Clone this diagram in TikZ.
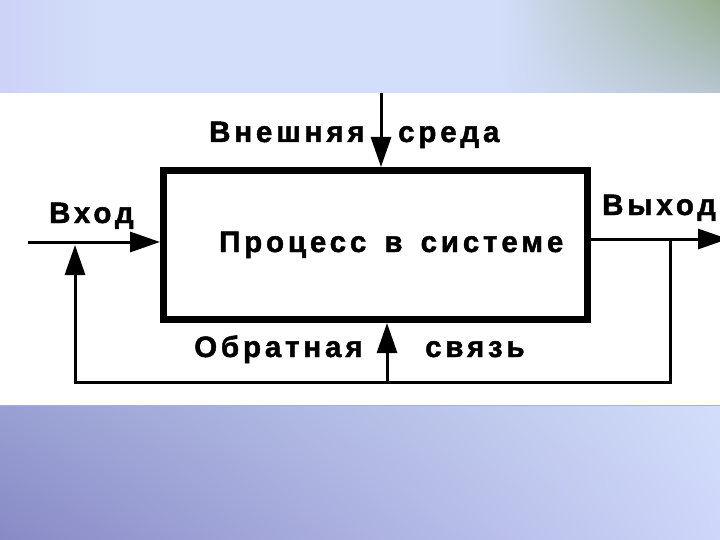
\documentclass[tikz,border=0pt]{standalone}
\usepackage{fontspec}
\usepackage{tikz}
\usetikzlibrary{arrows.meta, positioning, calc, shadings}
\newfontfamily\lblfont{Liberation Sans Bold}[LetterSpace=13, FakeBold=1.6, WordSpace=1.5]
\definecolor{bandBlue}{RGB}{210, 222, 250}
\definecolor{bandLav}{RGB}{205, 210, 246}
\definecolor{bandGreen}{RGB}{150, 172, 142}
\definecolor{bandGrey}{RGB}{182, 197, 208}
\definecolor{bandDeep}{RGB}{136, 138, 198}
\definecolor{bandMid}{RGB}{152, 160, 210}
\definecolor{bandPale}{RGB}{206, 214, 250}

\begin{document}
\begin{tikzpicture}[x=1pt, y=-1pt,
	sys_box/.style = {draw=black, line width=7pt, rectangle, inner sep=0pt,
		minimum width=424pt, minimum height=149pt},
	lbl/.style     = {anchor=base west, inner sep=0pt,
		font=\lblfont\fontsize{29.5}{31}\selectfont},
	line/.style    = {line width=3pt, -{Triangle[length=30pt, width=20pt]}}
	]
	\useasboundingbox (0,0) rectangle (720,540);
	\fill[white] (0,0) rectangle (720,540);
	% top and bottom bands
	\fill[bandBlue] (0,0) rectangle (720,93);
	\shade[upper left=bandLav, lower left=bandLav, upper right=bandBlue, lower right=bandBlue]
	(0,0) rectangle (100,93);
	\shade[upper left=bandBlue, lower left=bandBlue, upper right=bandGreen, lower right=bandGrey]
	(500,0) rectangle (720,93);
	\shade[upper left=bandMid, lower left=bandDeep, upper right=bandBlue, lower right=bandPale]
	(0,405) rectangle (720,540);
	\draw[bandDeep!70, line width=1pt] (0,405.5) -- (720,405.5);
	
	\node[sys_box] (proc) at (375.5,245) {};
	\node[lbl] (proc_txt) at (219,252) {Процесс в системе};
	
	\node[lbl] (env_l) at (209,142) {Внешняя};
	\node[lbl] (env_r) at (398,142) {среда};
	\node[lbl] (in_txt) at (49,223) {Вход};
	\node[lbl] (out_txt) at (602,215) {Выход};
	\node[lbl] (fb_l) at (194,357) {Обратная};
	\node[lbl] (fb_r) at (425,357) {связь};
	
	\coordinate (env_src) at (381,93);
	\coordinate (in_src) at (28,242);
	\coordinate (out_end) at (728,239);
	\coordinate (fb_right) at (670,239);
	\coordinate (fb_left) at (75,382);
	\coordinate (fb_src) at (387,382);
	
	\draw[line] (env_src) -- (env_src |- proc.north);
	\draw[line] (in_src) -- (in_src -| proc.west);
	\draw[line] (proc.east |- out_end) -- (out_end);
	\draw[line] (fb_right) |- (fb_left) -- ($(fb_left |- in_src)+(0,3)$);
	\draw[line] (fb_src) -- (fb_src |- proc.south);
\end{tikzpicture}
\end{document}
